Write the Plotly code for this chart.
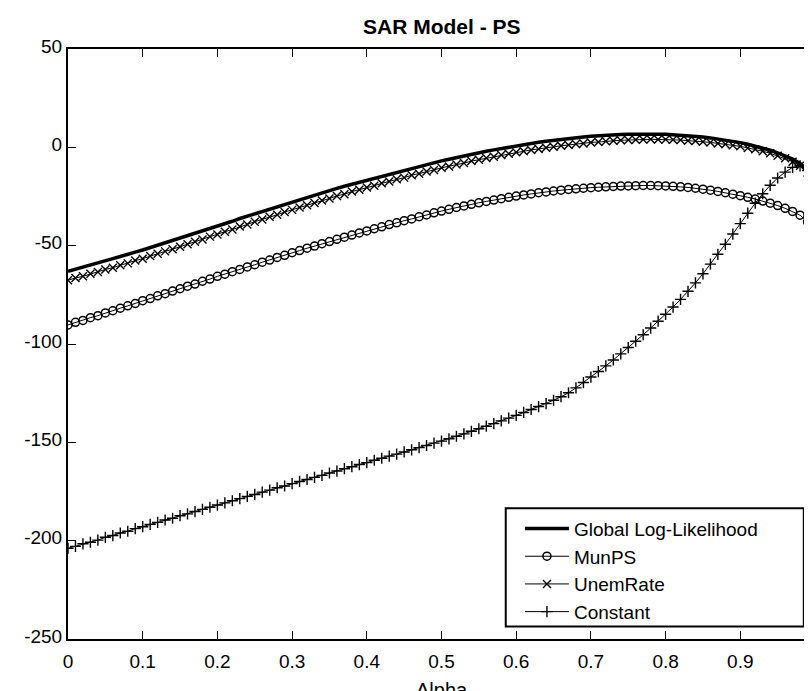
import plotly.graph_objects as go

alpha = [round(i * 0.01, 2) for i in range(100)]

global_ll = [
    -63.0, -62.0, -61.0, -60.0, -58.9, -57.8, -56.6, -55.5, -54.6, -53.3,
    -52.2, -51.0, -49.7, -48.6, -47.4, -46.3, -45.0, -43.9, -42.6, -41.3,
    -40.1, -38.8, -37.6, -36.2, -35.0, -33.8, -32.5, -31.3, -30.2, -28.9,
    -27.7, -26.6, -25.4, -24.3, -23.1, -22.0, -20.9, -19.8, -18.8, -17.7,
    -16.7, -15.6, -14.6, -13.6, -12.6, -11.6, -10.7, -9.7, -8.8, -7.9,
    -6.9, -6.1, -5.2, -4.4, -3.6, -2.8, -2.0, -1.3, -0.6, 0.1,
    0.8, 1.4, 2.0, 2.6, 3.1, 3.6, 4.1, 4.5, 4.9, 5.3,
    5.6, 5.9, 6.1, 6.3, 6.5, 6.6, 6.7, 6.8, 6.8, 6.7,
    6.6, 6.4, 6.2, 5.9, 5.6, 5.2, 4.8, 4.3, 3.7, 3.1,
    2.4, 1.6, 0.7, -0.3, -1.5, -2.8, -4.3, -6.0, -8.2, -11.5,
]

mun_ps = [
    -90.3, -89.0, -88.0, -86.6, -85.6, -84.2, -83.1, -81.8, -80.6, -79.4,
    -78.0, -76.9, -75.5, -74.4, -73.1, -71.9, -70.6, -69.5, -68.1, -67.0,
    -65.6, -64.5, -63.2, -62.1, -60.8, -59.7, -58.4, -57.3, -56.0, -54.9,
    -53.6, -52.5, -51.3, -50.2, -49.0, -47.9, -46.8, -45.7, -44.6, -43.5,
    -42.5, -41.4, -40.4, -39.3, -38.4, -37.3, -36.4, -35.3, -34.4, -33.3,
    -32.4, -31.5, -30.6, -29.8, -29.0, -28.2, -27.5, -26.8, -26.1, -25.4,
    -24.8, -24.2, -23.7, -23.1, -22.7, -22.2, -21.8, -21.4, -21.1, -20.8,
    -20.5, -20.3, -20.1, -19.9, -19.7, -19.6, -19.5, -19.4, -19.4, -19.5,
    -19.6, -19.8, -20.1, -20.4, -20.8, -21.3, -21.8, -22.4, -23.1, -23.8,
    -24.6, -25.4, -26.3, -27.3, -28.4, -29.6, -31.0, -32.6, -34.5, -37.9,
]

unem_rate = [
    -67.6, -66.4, -65.6, -64.3, -63.4, -62.1, -61.2, -59.9, -59.0, -57.6,
    -56.6, -55.3, -54.1, -52.9, -51.8, -50.5, -49.3, -48.0, -46.9, -45.4,
    -44.3, -42.9, -41.8, -40.3, -39.2, -37.8, -36.7, -35.3, -34.3, -32.9,
    -31.8, -30.6, -29.4, -28.3, -27.0, -26.0, -24.7, -23.8, -22.5, -21.6,
    -20.4, -19.5, -18.3, -17.4, -16.2, -15.4, -14.2, -13.4, -12.3, -11.5,
    -10.4, -9.7, -8.7, -8.0, -7.0, -6.3, -5.4, -4.8, -3.9, -3.3,
    -2.5, -2.0, -1.3, -0.8, -0.2, 0.3, 0.8, 1.2, 1.7, 2.0,
    2.5, 2.7, 3.1, 3.3, 3.6, 3.7, 3.9, 4.0, 4.1, 4.0,
    4.0, 3.8, 3.7, 3.4, 3.2, 2.8, 2.5, 2.0, 1.6, 1.0,
    0.5, -0.3, -1.0, -2.0, -3.0, -4.3, -5.6, -7.3, -9.4, -12.8,
]

constant = [
    -203.9, -202.9, -201.6, -200.8, -199.7, -198.3, -197.4, -196.1, -195.2, -193.9,
    -192.9, -191.7, -190.7, -189.5, -188.6, -187.3, -186.4, -185.2, -184.1, -183.0,
    -181.9, -180.8, -179.7, -178.6, -177.5, -176.5, -175.3, -174.3, -173.1, -172.2,
    -171.0, -169.9, -168.9, -167.8, -166.8, -165.6, -164.6, -163.4, -162.4, -161.3,
    -160.3, -159.1, -158.1, -157.0, -156.0, -154.9, -153.8, -152.7, -151.6, -150.4,
    -149.4, -148.2, -146.9, -145.7, -144.4, -143.1, -141.8, -140.5, -139.1, -137.7,
    -136.3, -134.8, -133.3, -131.8, -130.3, -128.6, -126.8, -124.8, -122.3, -119.6,
    -116.8, -114.0, -111.1, -108.1, -105.0, -101.8, -98.6, -95.3, -91.9, -88.4,
    -84.9, -81.2, -77.3, -73.2, -68.9, -64.3, -59.4, -54.4, -49.3, -44.1,
    -38.8, -33.5, -28.4, -23.6, -19.3, -15.6, -12.6, -10.2, -9.4, -11.8,
]

x_ticks = [0, 0.1, 0.2, 0.3, 0.4, 0.5, 0.6, 0.7, 0.8, 0.9, 1]
y_ticks = [-250, -200, -150, -100, -50, 0, 50]

FONT = "Liberation Sans, Arial, Helvetica, sans-serif"

fig = go.Figure()
fig.add_trace(go.Scatter(
    x=alpha, y=global_ll, mode="lines", name="Global Log-Likelihood",
    line=dict(color="black", width=3.5),
))
fig.add_trace(go.Scatter(
    x=alpha, y=mun_ps, mode="lines+markers", name="MunPS",
    line=dict(color="black", width=1),
    marker=dict(symbol="circle-open", size=8, color="black", line=dict(width=1.5, color="black")),
))
fig.add_trace(go.Scatter(
    x=alpha, y=unem_rate, mode="lines+markers", name="UnemRate",
    line=dict(color="black", width=1),
    marker=dict(symbol="x-thin", size=8, color="black", line=dict(width=1.4, color="black")),
))
fig.add_trace(go.Scatter(
    x=alpha, y=constant, mode="lines+markers", name="Constant",
    line=dict(color="black", width=1),
    marker=dict(symbol="cross-thin", size=8, color="black", line=dict(width=1.4, color="black")),
))

axis_common = dict(
    showline=True, linecolor="black", linewidth=2, mirror="ticks",
    ticks="inside", ticklen=8, tickwidth=1, tickcolor="black",
    showgrid=False, zeroline=False, automargin=False,
    ticklabeloverflow="allow",
    tickfont=dict(family=FONT, size=19, color="black"),
)

fig.update_xaxes(range=[0, 1], tickvals=x_ticks, ticktext=[f"{v:g}" for v in x_ticks],
                 ticklabelstandoff=4, **axis_common)
fig.update_yaxes(range=[-250, 50], tickvals=y_ticks, ticktext=[str(v) for v in y_ticks],
                 ticklabelstandoff=0, ticklabelshift=-3, **axis_common)

fig.update_layout(
    width=812, height=691,
    margin=dict(l=59.5, r=4.5, t=40.7, b=60.3),
    paper_bgcolor="white", plot_bgcolor="white",
    font=dict(family=FONT, color="black"),
    showlegend=True,
    legend=dict(
        x=0.605, y=0.2192, xanchor="left", yanchor="top",
        bgcolor="rgba(0,0,0,0)", borderwidth=0,
        font=dict(family=FONT, size=19, color="black"),
        itemwidth=44, tracegroupgap=0,
    ),
    shapes=[
        dict(type="rect", xref="paper", yref="paper",
             x0=0.586, x1=0.985, y0=0.021, y1=0.2215,
             line=dict(color="black", width=2), fillcolor="white", layer="above"),
    ],
    annotations=[
        dict(text="<b>SAR Model - PS</b>", xref="paper", yref="paper",
             x=0.5, y=1.0, yshift=23, xanchor="center", yanchor="middle",
             showarrow=False, font=dict(family=FONT, size=21, color="black")),
        dict(text="Alpha", xref="paper", yref="paper",
             x=0.5, y=0, yshift=-38, xanchor="center", yanchor="top",
             showarrow=False, font=dict(family=FONT, size=20, color="black")),
    ],
)

fig.write_html("out.html")
